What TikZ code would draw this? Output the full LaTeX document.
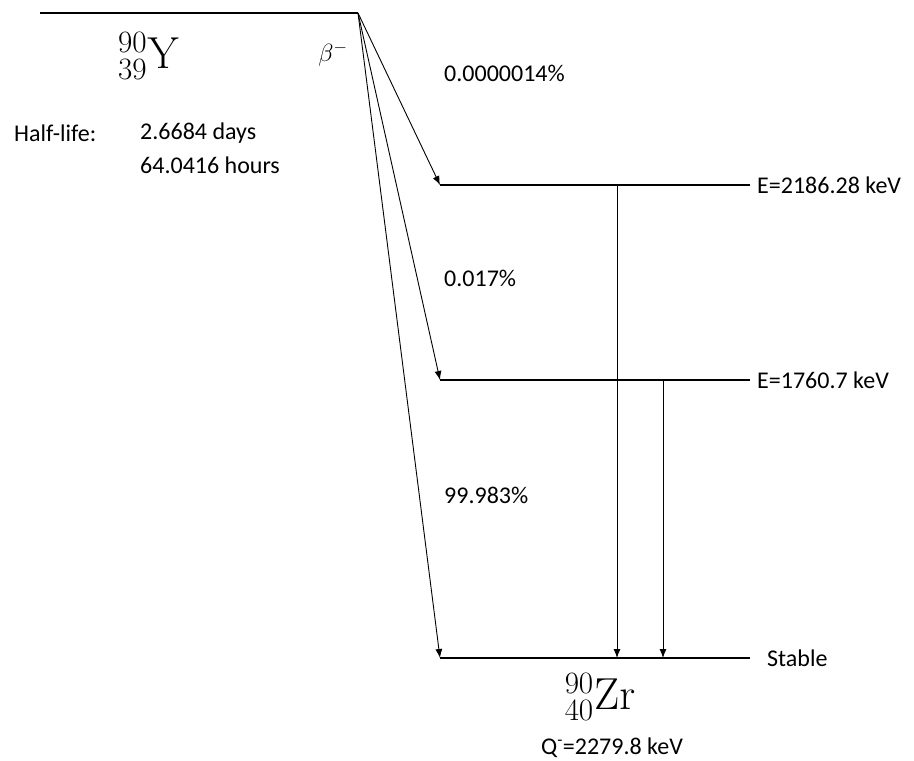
\documentclass[tikz,border=0pt]{standalone}
\usepackage{graphicx}
\usepackage[no-math]{fontspec}
\setmainfont{Carlito}
\usetikzlibrary{arrows.meta}
\newcommand{\nucl}[3]{\scalebox{1.8}{$^{#1}_{#2}\mathrm{#3}$}}
\begin{document}
\begin{tikzpicture}[x=1pt, y=-1pt, font=\fontsize{24}{28}\selectfont]
\tikzstyle{level}=[line width=1.1pt]
\tikzstyle{decay}=[line width=0.9pt, -{Latex[length=9pt, width=7pt]}]
\tikzstyle{txt}=[anchor=west, inner sep=0pt]
\useasboundingbox (0,0) rectangle (914,761);
% Niveles de energia
\coordinate (p0) at (40,13); \coordinate (p1) at (358,13);
\coordinate (a0) at (440,185); \coordinate (a1) at (750,185);
\coordinate (b0) at (440,380); \coordinate (b1) at (750,380);
\coordinate (c0) at (440,658); \coordinate (c1) at (750,658);
\draw[level] (p0) -- (p1);
\draw[level] (a0) -- (a1); \draw[level] (b0) -- (b1); \draw[level] (c0) -- (c1);
\node[txt] (ea) at (757,185) {E=2186.28 keV};
\node[txt] (eb) at (757,380) {E=1760.7 keV};
\node[txt] (ec) at (767,658) {Stable};

% Nucleos y datos
\node[inner sep=0pt] (ypar) at (149,56) {\nucl{90}{39}{Y}};
\node[inner sep=0pt] (zrhija) at (600,697) {\nucl{90}{40}{Zr}};
\node (beta) at (333,54) {$\beta^{-}$};
\node[txt] (hl) at (14,133) {Half-life:};
\node[txt] (hd) at (140,133) {2.6684 days};
\node[txt] (hh) at (140,165) {64.0416 hours};
\node (qval) at (612,748) {Q\textsuperscript{-}=2279.8 keV};

% Ramas beta
\draw[decay] (p1) -- (a0);
\draw[decay] (p1) -- (b0);
\draw[decay] (p1) -- (c0);
\node[txt] (ra) at (444,73) {0.0000014\%};
\node[txt] (rb) at (444,278) {0.017\%};
\node[txt] (rc) at (444,495) {99.983\%};

% Transiciones gamma
\coordinate (ga) at (617,185); \coordinate (gb) at (663,380);
\draw[decay] (ga) -- (ga |- c0);
\draw[decay] (gb) -- (gb |- c0);
\end{tikzpicture}
\end{document}
